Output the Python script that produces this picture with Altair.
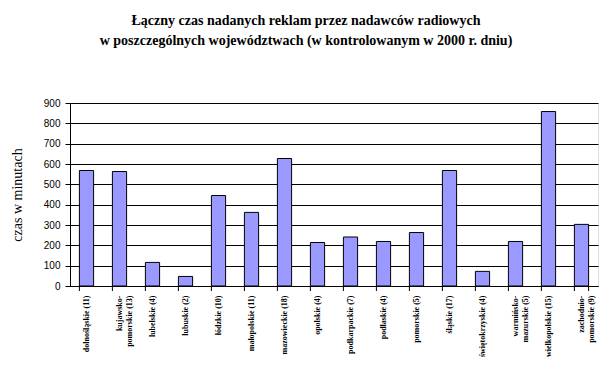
import altair as alt
import pandas as pd

categories = [
    "dolnośląskie (11)", "kujawsko-|pomorskie (13)", "lubelskie (4)", "lubuskie (2)",
    "łódzkie (10)", "małopolskie (11)", "mazowieckie (18)", "opolskie (4)",
    "podkarpackie (7)", "podlaskie (4)", "pomorskie (5)", "śląskie (17)",
    "świętokrzyskie (4)", "warmińsko-|mazurskie (5)", "wielkopolskie (15)",
    "zachodnio-|pomorskie (9)",
]
values = [568, 563, 116, 47, 445, 362, 627, 214, 241, 219, 263, 568, 72, 219, 858, 303]

df = pd.DataFrame({"cat": categories, "val": values})

xscale = alt.Scale(paddingInner=0.57, paddingOuter=0.285)

bars = alt.Chart(df).mark_bar(color="#9999FF", stroke="black", strokeWidth=1).encode(
    x=alt.X("cat:N", sort=categories, scale=xscale, title=None,
            axis=alt.Axis(labelAngle=-90, ticks=False, labelPadding=9,
                          labelExpr="split(datum.label, '|')",
                          labelFont="Liberation Serif", labelFontSize=8, labelFontWeight="bold",
                          labelLineHeight=10, labelColor="black",
                          domainColor="black", labelOverlap=False)),
    y=alt.Y("val:Q", scale=alt.Scale(domain=[0, 900], nice=False),
            title="czas w minutach",
            axis=alt.Axis(values=list(range(0, 1000, 100)), grid=True, gridColor="black",
                          gridOpacity=1, tickSize=5, tickColor="black", labelPadding=5,
                          labelFont="Liberation Sans", labelFontSize=10, labelColor="black",
                          domainColor="black", titleFont="Liberation Serif",
                          titleFontSize=14, titleFontWeight="normal", titleColor="black",
                          titlePadding=19)),
)

ticks_left = alt.Chart(df).mark_rule(color="black").encode(
    x=alt.X("cat:N", sort=categories, scale=xscale, bandPosition=0),
    y=alt.value(183), y2=alt.value(188),
)
ticks_right = alt.Chart(df).transform_filter(
    alt.datum.cat == categories[-1]
).mark_rule(color="black").encode(
    x=alt.X("cat:N", sort=categories, scale=xscale, bandPosition=1),
    y=alt.value(183), y2=alt.value(188),
)

chart = alt.layer(bars, ticks_left, ticks_right).properties(
    width=528, height=183,
    padding={"left": 62, "top": 95, "right": 7, "bottom": 74},
    autosize=alt.AutoSizeParams(type="none"),
    title=alt.TitleParams(
        ["Łączny czas nadanych reklam przez nadawców radiowych",
         "w poszczególnych województwach (w kontrolowanym w 2000 r. dniu)"],
        font="Liberation Serif", fontSize=14, fontWeight="bold", color="black",
        anchor="middle", dx=-28, offset=50, lineHeight=20,
    ),
).configure_view(stroke=None).configure(background="white")

chart.save("out.html", embed_options={"renderer": "svg", "actions": False})
